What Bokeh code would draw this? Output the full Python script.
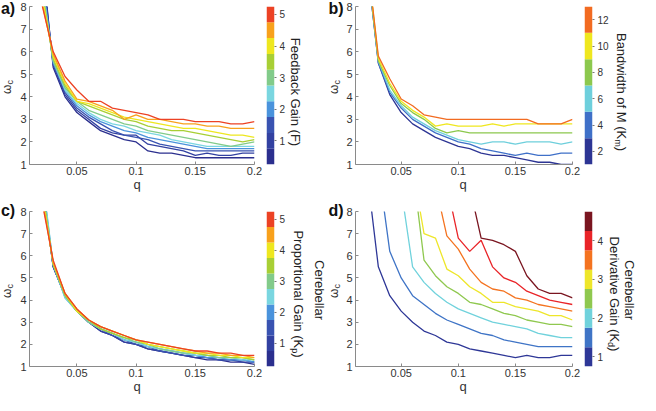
import numpy as np
from bokeh.plotting import figure
from bokeh.models import FixedTicker, Range1d, Div, NumeralTickFormatter
from bokeh.layouts import row, column
from bokeh.embed import file_html
from bokeh.resources import INLINE

FONT = "Liberation Sans"
nan = float("nan")

# ---------------- data ----------------
q = [0.02, 0.03, 0.04, 0.05, 0.06, 0.07, 0.08, 0.09, 0.10, 0.11,
     0.12, 0.13, 0.14, 0.15, 0.16, 0.17, 0.18, 0.19, 0.20]

# a) Feedback gain F
a_params = [0.5, 1.0, 1.5, 2.0, 2.5, 3.0, 3.5, 4.0, 4.5, 5.0]
a_values = [
    [10.5, 5.3, 4.0, 3.3, 2.9, 2.5, 2.3, 2.1, 2.0, 1.6, 1.5, 1.5, 1.4, 1.3, 1.3, 1.3, 1.3, 1.3, 1.3],
    [10.2, 5.4, 4.1, 3.4, 3.0, 2.6, 2.4, 2.3, 2.3, 1.9, 1.8, 1.7, 1.6, 1.4, 1.5, 1.4, 1.4, 1.5, 1.5],
    [9.8, 5.5, 4.2, 3.5, 3.1, 2.8, 2.5, 2.3, 2.2, 2.1, 1.9, 1.8, 1.7, 1.6, 1.6, 1.6, 1.6, 1.6, 1.6],
    [9.5, 5.5, 4.3, 3.6, 3.2, 2.9, 2.7, 2.5, 2.4, 2.2, 2.1, 2.0, 1.9, 1.8, 1.7, 1.7, 1.7, 1.7, 1.7],
    [9.2, 5.6, 4.3, 3.7, 3.3, 3.0, 2.8, 2.7, 2.5, 2.4, 2.3, 2.1, 2.0, 1.9, 1.8, 1.8, 1.8, 1.8, 1.8],
    [9.0, 5.6, 4.4, 3.8, 3.4, 3.2, 3.0, 2.8, 2.7, 2.5, 2.4, 2.3, 2.2, 2.1, 2.0, 1.9, 1.8, 1.9, 2.0],
    [8.8, 5.7, 4.5, 3.8, 3.6, 3.4, 3.2, 3.0, 2.9, 2.7, 2.6, 2.5, 2.5, 2.4, 2.3, 2.2, 2.1, 2.0, 2.1],
    [8.6, 5.8, 4.6, 3.8, 3.7, 3.5, 3.3, 3.1, 3.0, 2.9, 2.8, 2.7, 2.6, 2.6, 2.5, 2.4, 2.3, 2.3, 2.2],
    [8.3, 5.9, 4.7, 3.9, 3.8, 3.6, 3.4, 3.0, 3.2, 3.0, 3.0, 2.9, 2.8, 2.8, 2.7, 2.7, 2.6, 2.6, 2.6],
    [8.2, 6.0, 4.9, 4.3, 3.8, 3.8, 3.5, 3.4, 3.3, 3.2, 3.0, 3.0, 3.0, 2.9, 2.9, 2.9, 2.8, 2.8, 2.9],
]

# b) Bandwidth of M (Km)
b_params = [2, 4, 6, 8, 10, 12]
b_values = [
    [10.0, 5.5, 4.1, 3.3, 2.8, 2.5, 2.2, 2.0, 1.8, 1.7, 1.5, 1.4, 1.4, 1.3, 1.2, 1.1, 1.1, 1.0, 1.0],
    [10.0, 5.5, 4.2, 3.5, 3.0, 2.7, 2.4, 2.2, 2.0, 1.9, 1.7, 1.6, 1.5, 1.4, 1.5, 1.4, 1.4, 1.5, 1.5],
    [10.1, 5.6, 4.3, 3.6, 3.1, 2.8, 2.5, 2.3, 2.1, 2.0, 1.9, 2.0, 2.0, 1.9, 2.0, 2.0, 2.0, 1.9, 2.0],
    [10.1, 5.6, 4.5, 3.7, 3.3, 3.0, 2.6, 2.4, 2.5, 2.4, 2.4, 2.4, 2.4, 2.4, 2.4, 2.4, 2.4, 2.4, 2.4],
    [10.2, 5.7, 4.6, 3.8, 3.4, 3.1, 2.7, 2.8, 2.7, 2.7, 2.7, 2.8, 2.7, 2.8, 2.8, 2.8, 2.8, 2.8, 2.8],
    [10.2, 5.8, 4.8, 3.9, 3.6, 3.2, 3.1, 3.0, 3.0, 3.0, 3.0, 3.0, 3.0, 3.0, 3.0, 2.8, 2.8, 2.8, 3.0],
]

# c) Cerebellar proportional gain (Kp)
c_params = [0.5, 1.0, 1.5, 2.0, 2.5, 3.0, 3.5, 4.0, 4.5, 5.0]
c_values = [
    [9.6, 5.5, 4.2, 3.5, 3.0, 2.6, 2.4, 2.1, 2.0, 1.8, 1.7, 1.6, 1.5, 1.4, 1.3, 1.3, 1.2, 1.2, 1.1],
    [9.6, 5.5, 4.2, 3.5, 3.0, 2.6, 2.4, 2.1, 2.0, 1.8, 1.7, 1.6, 1.5, 1.4, 1.4, 1.3, 1.3, 1.2, 1.2],
    [9.7, 5.5, 4.2, 3.5, 3.0, 2.7, 2.4, 2.2, 2.0, 1.9, 1.7, 1.6, 1.5, 1.5, 1.4, 1.3, 1.3, 1.3, 1.2],
    [9.8, 5.6, 4.1, 3.5, 3.0, 2.7, 2.5, 2.2, 2.1, 1.9, 1.8, 1.7, 1.6, 1.5, 1.4, 1.4, 1.3, 1.3, 1.2],
    [10.0, 5.6, 4.1, 3.5, 3.0, 2.7, 2.5, 2.2, 2.1, 1.9, 1.8, 1.7, 1.6, 1.5, 1.5, 1.4, 1.4, 1.3, 1.3],
    [9.4, 5.6, 4.2, 3.5, 3.0, 2.7, 2.5, 2.3, 2.1, 2.0, 1.8, 1.7, 1.6, 1.6, 1.5, 1.4, 1.4, 1.4, 1.3],
    [9.2, 5.6, 4.2, 3.5, 3.1, 2.7, 2.5, 2.3, 2.2, 2.0, 1.9, 1.8, 1.7, 1.6, 1.5, 1.5, 1.4, 1.4, 1.3],
    [9.0, 5.7, 4.3, 3.5, 3.1, 2.8, 2.6, 2.4, 2.2, 2.0, 1.9, 1.8, 1.7, 1.6, 1.6, 1.5, 1.5, 1.4, 1.4],
    [8.8, 5.7, 4.3, 3.6, 3.1, 2.8, 2.6, 2.4, 2.2, 2.1, 2.0, 1.9, 1.8, 1.7, 1.6, 1.6, 1.5, 1.5, 1.4],
    [8.6, 5.8, 4.3, 3.6, 3.1, 2.8, 2.6, 2.4, 2.2, 2.1, 2.0, 1.9, 1.8, 1.7, 1.7, 1.6, 1.6, 1.5, 1.5],
]

# d) Cerebellar derivative gain (Kd)
d_params = [1.0, 1.5, 2.0, 2.5, 3.0, 3.5, 4.0, 4.5]
d_values = [
    [9.8, 5.5, 4.2, 3.5, 3.0, 2.6, 2.4, 2.1, 2.0, 1.8, 1.7, 1.6, 1.5, 1.4, 1.5, 1.4, 1.4, 1.5, 1.5],
    [nan, 10.0, 6.2, 5.0, 4.2, 3.8, 3.4, 3.1, 2.9, 2.7, 2.5, 2.4, 2.2, 2.1, 2.0, 1.9, 1.9, 1.9, 1.9],
    [nan, nan, nan, 9.0, 5.5, 4.8, 4.3, 3.9, 3.6, 3.4, 3.2, 3.0, 2.9, 2.8, 2.7, 2.5, 2.4, 2.3, 2.3],
    [nan, nan, nan, nan, 10.0, 5.8, 5.1, 4.6, 4.3, 3.9, 3.8, 3.6, 3.4, 3.3, 3.1, 3.0, 2.9, 2.9, 2.8],
    [nan, nan, nan, nan, 10.0, 7.0, 6.8, 5.4, 5.1, 4.6, 4.3, 3.9, 3.9, 3.7, 3.6, 3.5, 3.3, 3.3, 3.1],
    [nan, nan, nan, nan, nan, nan, 9.2, 6.9, 6.3, 5.4, 4.8, 4.5, 4.4, 4.1, 4.0, 3.8, 3.7, 3.6, 3.5],
    [nan, nan, nan, nan, nan, nan, nan, 9.2, 6.8, 6.2, 6.7, 5.5, 5.0, 4.8, 4.4, 4.2, 4.0, 3.9, 3.8],
    [nan, nan, nan, nan, nan, nan, nan, nan, nan, 9.1, 6.8, 6.7, 6.5, 6.2, 5.1, 4.5, 4.3, 4.3, 4.1],
]

x_ticks = [0.05, 0.1, 0.15, 0.2]
y_ticks = [1, 2, 3, 4, 5, 6, 7, 8]
a_cticks = [1, 2, 3, 4, 5]
b_cticks = [2, 4, 6, 8, 10, 12]
c_cticks = [1, 2, 3, 4, 5]
d_cticks = [1, 2, 3, 4]

# colour-bar ranges (one colour band per parameter value)
a_crange = (0.25, 5.25)
b_crange = (1, 13)
c_crange = (0.25, 5.25)
d_crange = (0.75, 4.75)

pal_10 = ["#2b2f8e", "#3241a1", "#3953b1", "#4a93dc", "#7ad6e0",
          "#82cb8a", "#a8cf35", "#eee71f", "#f8a11c", "#ec4224"]
pal_6 = ["#2d3594", "#3f70c8", "#6ecfdc", "#8cc84e", "#efe71f", "#f26b21"]
pal_8 = ["#2e3797", "#3f74c6", "#70d2dc", "#8fc84f", "#eee62a", "#f47320",
         "#e92428", "#7a1520"]

AX = "#8a8a8a"
TXT = "#333333"


# ---------------- helpers ----------------
def span(cx, cy, html, size, rot=0, bold=False, color="#222222", lh="1"):
    return (f'<span style="position:absolute;left:{cx}px;top:{cy}px;'
            f'transform:translate(-50%,-50%) rotate({rot}deg);white-space:nowrap;'
            f"font-family:'{FONT}';font-size:{size}px;line-height:{lh};"
            f'font-weight:{"bold" if bold else "normal"};color:{color};">{html}</span>')


def sub(t):
    return f'<sub style="font-size:9px;line-height:1;vertical-align:-2px;">{t}</sub>'


def make_div(w, h, parts):
    inner = "".join(parts)
    return Div(text=(f'<div style="position:relative;width:{w}px;height:{h}px;">'
                     f'{inner}</div>'),
               width=w, height=h, margin=0)


def style_axis(ax):
    ax.axis_line_color = AX
    ax.major_tick_line_color = AX
    ax.minor_tick_line_color = None
    ax.major_label_text_font = FONT
    ax.major_label_text_font_size = "11px"
    ax.major_label_text_color = TXT


def panel(params, values, palette, frame_w, H, bt, bb):
    p = figure(width=10 + frame_w + 9, height=H, x_range=Range1d(0.01, 0.2),
               y_range=Range1d(1, 8), output_backend="svg", toolbar_location=None,
               min_border_left=10, min_border_right=9,
               min_border_top=bt, min_border_bottom=bb)
    p.outline_line_color = None
    p.grid.visible = False
    p.xaxis.ticker = FixedTicker(ticks=x_ticks)
    p.xaxis.formatter = NumeralTickFormatter(format="0.[00]")
    p.yaxis.ticker = FixedTicker(ticks=y_ticks)
    for ax in (p.xaxis, p.yaxis):
        style_axis(ax)
        ax.major_tick_in = 3
        ax.major_tick_out = 0
    p.xaxis.major_label_standoff = 2
    p.yaxis.major_label_standoff = 3
    for i in range(len(params)):
        p.line(q, np.array(values[i], dtype=float), line_color=palette[i], line_width=1.3)
    return p


def colorbar(palette, crange, cticks, right, H, bt, bb):
    low, high = crange
    n = len(palette)
    step = (high - low) / n
    bottoms = [low + i * step for i in range(n)]
    tops = [low + (i + 1) * step for i in range(n)]
    c = figure(width=3 + 10 + right, height=H, x_range=Range1d(0, 1),
               y_range=Range1d(low, high), output_backend="svg", toolbar_location=None,
               y_axis_location="right", min_border_left=3, min_border_right=right,
               min_border_top=bt, min_border_bottom=bb)
    c.quad(left=0, right=1, bottom=bottoms, top=tops, fill_color=palette, line_color=None)
    c.outline_line_color = None
    c.grid.visible = False
    c.xaxis.visible = False
    c.yaxis.ticker = FixedTicker(ticks=cticks)
    style_axis(c.yaxis)
    c.yaxis.axis_line_color = None
    c.yaxis.major_tick_line_color = "#777777"
    c.yaxis.major_tick_in = 0
    c.yaxis.major_tick_out = 2
    c.yaxis.major_label_standoff = 3
    c.yaxis.major_label_text_font_size = "10px"
    return c


TOP_H, BOT_H, Q_H = 179, 190, 12
TOP_T, BOT_T, BB = 6, 20, 15
OMEGA = "ω" + sub("c")

# top row  (widths: 17 + 246 + 25 + 40 + 15 + 238 + 30 + 25 = 636)
la = make_div(17, TOP_H, [span(8, 9, "a)", 16, bold=True, color="#111111"),
                          span(8, 87, OMEGA, 12, rot=-90, color=TXT)])
pa = panel(a_params, a_values, pal_10, 227, TOP_H, TOP_T, BB)
ca = colorbar(pal_10, a_crange, a_cticks, 12, TOP_H, TOP_T, BB)
ra = make_div(40, TOP_H, [span(7, 92, "Feedback Gain (F)", 13, rot=90)])

lb = make_div(15, TOP_H, [span(8, 9, "b)", 16, bold=True, color="#111111"),
                          span(7, 87, OMEGA, 12, rot=-90, color=TXT)])
pb = panel(b_params, b_values, pal_6, 219, TOP_H, TOP_T, BB)
cb = colorbar(pal_6, b_crange, b_cticks, 17, TOP_H, TOP_T, BB)
rb = make_div(25, TOP_H, [span(9, 92, "Bandwidth of M (K" + sub("m") + ")", 13, rot=90)])

q_top = make_div(636, Q_H, [span(137, 4.5, "q", 13, color=TXT, lh="9px"),
                            span(463, 4.5, "q", 13, color=TXT, lh="9px")])

# bottom row (widths: 17 + 246 + 25 + 40 + 15 + 238 + 25 + 30 = 636)
lc = make_div(17, BOT_H, [span(8, 20, "c)", 16, bold=True, color="#111111"),
                          span(8, 100, OMEGA, 12, rot=-90, color=TXT)])
pc = panel(c_params, c_values, pal_10, 227, BOT_H, BOT_T, BB)
cc = colorbar(pal_10, c_crange, c_cticks, 12, BOT_H, BOT_T, BB)
rc = make_div(40, BOT_H, [span(31, 99, "Cerebellar", 13, rot=90),
                          span(9, 103, "Proportional Gain (K" + sub("p") + ")", 13, rot=90)])

ld = make_div(15, BOT_H, [span(8, 20, "d)", 16, bold=True, color="#111111"),
                          span(7, 100, OMEGA, 12, rot=-90, color=TXT)])
pd = panel(d_params, d_values, pal_8, 219, BOT_H, BOT_T, BB)
cd = colorbar(pal_8, d_crange, d_cticks, 12, BOT_H, BOT_T, BB)
rd = make_div(30, BOT_H, [span(23, 99, "Cerebellar", 13, rot=90),
                          span(7, 103, "Derivative Gain (K" + sub("d") + ")", 13, rot=90)])

q_bot = make_div(636, Q_H, [span(137, 4.5, "q", 13, color=TXT, lh="9px"),
                            span(463, 4.5, "q", 13, color=TXT, lh="9px")])

layout = column(row(la, pa, ca, ra, lb, pb, cb, rb), q_top,
                row(lc, pc, cc, rc, ld, pd, cd, rd), q_bot)
open("out.html", "w").write(file_html(layout, INLINE))
